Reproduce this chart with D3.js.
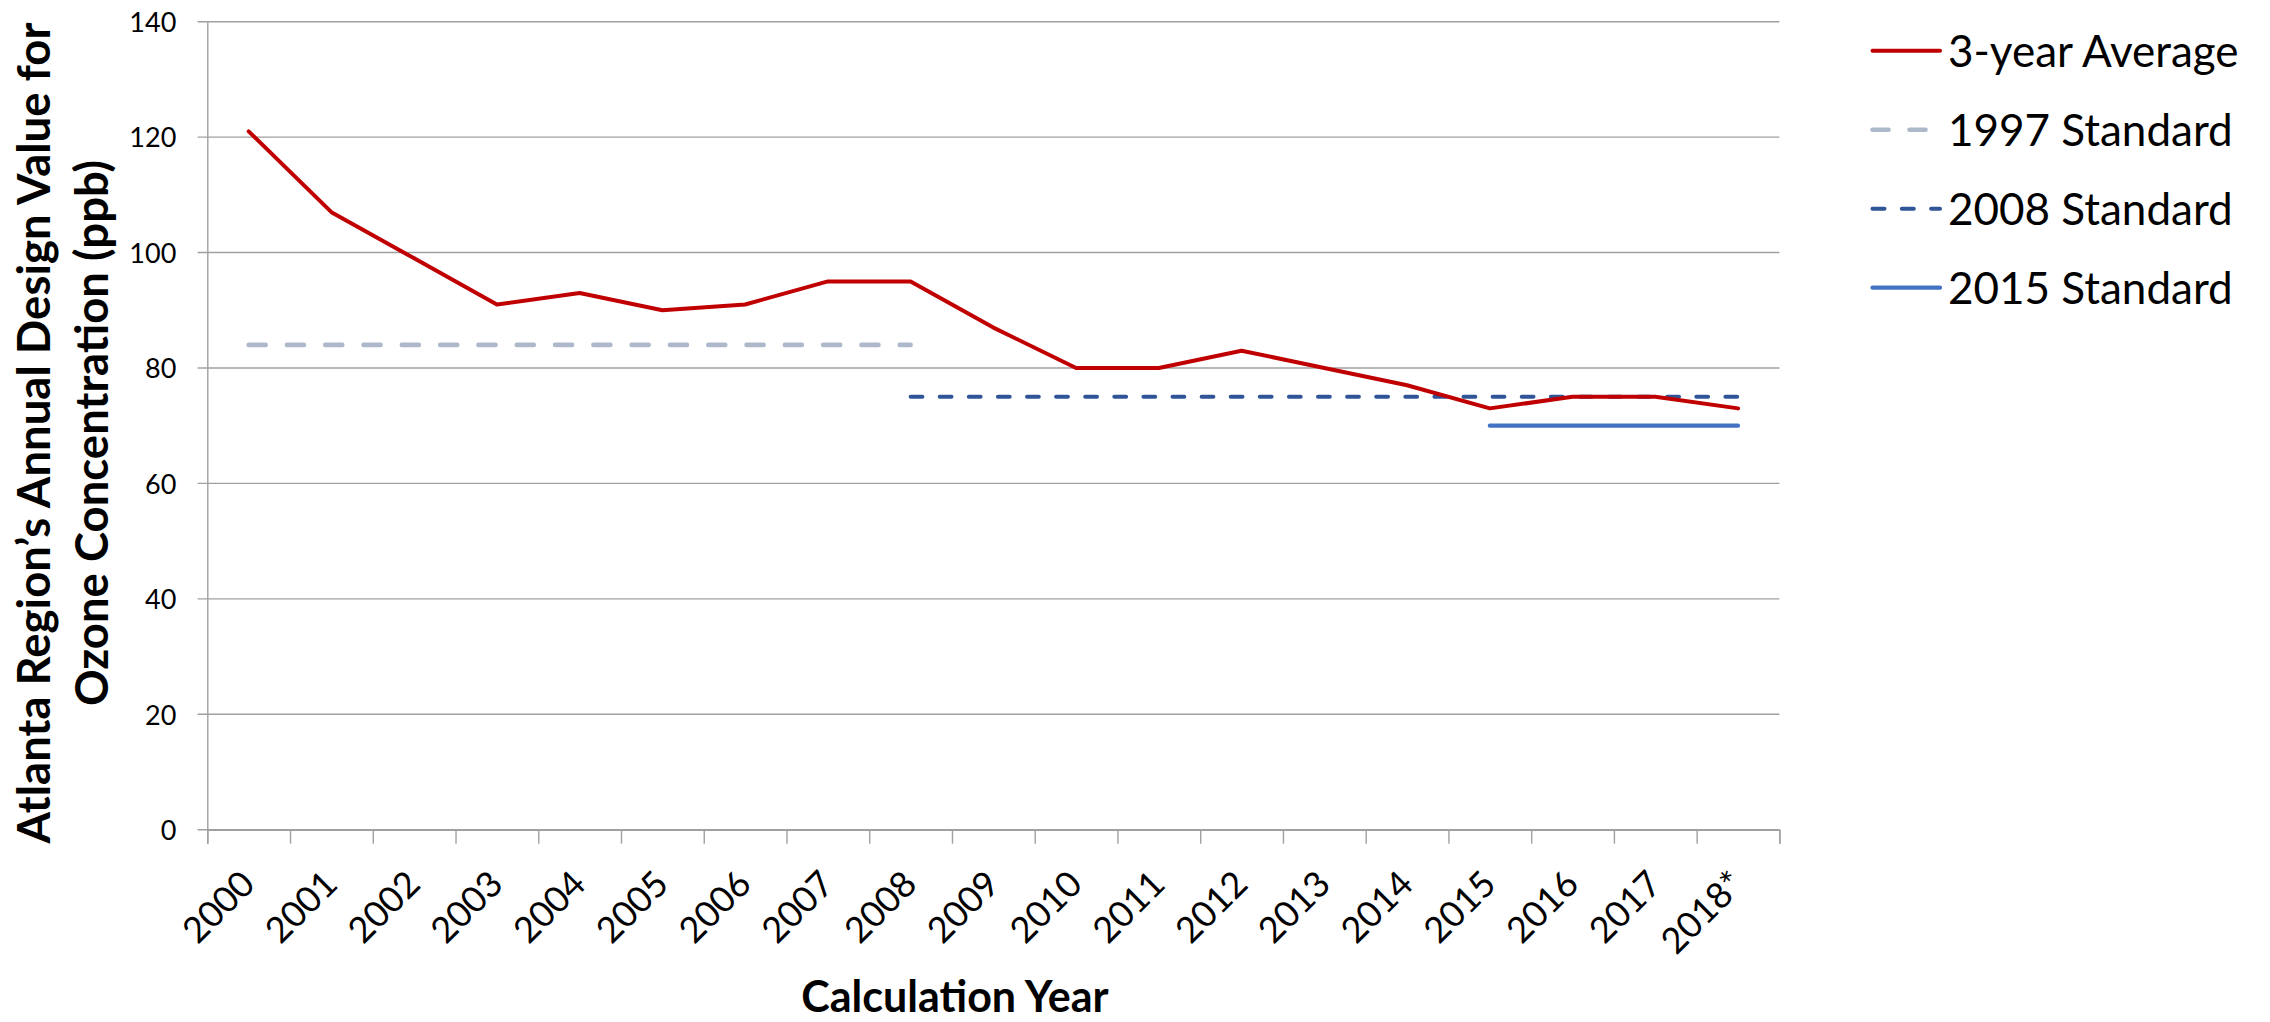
<!DOCTYPE html>
<html><head><meta charset="utf-8">
<script src="https://cdn.jsdelivr.net/npm/d3@7"></script>
<style>
html,body{margin:0;padding:0;background:#fff;}
svg{display:block;font-family:Lato,"Noto Sans",sans-serif;}
</style></head>
<body>
<svg id="chart" width="2270" height="1022"></svg>
<script>
// ---- data ----
const years = ["2000","2001","2002","2003","2004","2005","2006","2007","2008","2009","2010","2011","2012","2013","2014","2015","2016","2017","2018*"];
const avg3yr = [121,107,99,91,93,90,91,95,95,87,80,80,83,80,77,73,75,75,73];
const std1997 = [84,84,84,84,84,84,84,84,84,null,null,null,null,null,null,null,null,null,null];
const std2008 = [null,null,null,null,null,null,null,null,75,75,75,75,75,75,75,75,75,75,75];
const std2015 = [null,null,null,null,null,null,null,null,null,null,null,null,null,null,null,70,70,70,70];
const yTicks = [0,20,40,60,80,100,120,140];
const seriesNames = ["3-year Average","1997 Standard","2008 Standard","2015 Standard"];

// ---- layout ----
const L = 207.3, R = 1779.4, T = 21.7, B = 829.7;
const svg = d3.select("#chart");
const x = d3.scaleBand().domain(years).range([L, R]).padding(0);
const xi = d3.scaleLinear().domain([0, years.length]).range([L, R]);
const y = d3.scaleLinear().domain([0, 140]).range([B, T]);
const cx = d => x(d) + x.bandwidth() / 2;

const gridCol = "#a0a0a0";

// gridlines
svg.append("g").selectAll("line").data(yTicks).join("line")
  .attr("x1", L - 9.7).attr("x2", R)
  .attr("y1", d => y(d)).attr("y2", d => y(d))
  .attr("stroke", gridCol).attr("stroke-width", 1.4);

// y axis
const yAxis = svg.append("g").attr("transform", `translate(${L},0)`)
  .call(d3.axisLeft(y).tickValues(yTicks).tickSize(0).tickPadding(31));
yAxis.select(".domain").attr("stroke", gridCol).attr("stroke-width", 1.4);
yAxis.selectAll("text").attr("font-size", 27).attr("fill", "#000")
  .attr("font-family", "Lato").attr("dy", "0.36em");

// x axis
const xAxis = svg.append("g").attr("transform", `translate(0,${B})`)
  .call(d3.axisBottom(xi).tickValues(d3.range(years.length + 1)).tickSize(14).tickFormat(""));
xAxis.select(".domain").attr("stroke", gridCol).attr("stroke-width", 1.4);
xAxis.selectAll(".tick line").attr("stroke", gridCol).attr("stroke-width", 1.4);

// x labels
svg.append("g").selectAll("text").data(years).join("text")
  .attr("transform", d => `translate(${cx(d) - 1},877) rotate(-45)`)
  .attr("text-anchor", "end").attr("dy", "0.36em")
  .attr("font-size", 36).attr("fill", "#000").text(d => d);

// lines
const mk = arr => d3.line().defined((d, i) => arr[i] != null)
  .x((d, i) => cx(years[i])).y((d, i) => y(arr[i]))(arr);

svg.append("path").attr("d", mk(std1997)).attr("fill", "none")
  .attr("stroke", "#adb9ca").attr("stroke-width", 4.6)
  .attr("stroke-linecap", "round").attr("stroke-dasharray", "17,21.3");
svg.append("path").attr("d", mk(std2008)).attr("fill", "none")
  .attr("stroke", "#2f5597").attr("stroke-width", 4)
  .attr("stroke-linecap", "round").attr("stroke-dasharray", "11.8,17.3");
svg.append("path").attr("d", mk(std2015)).attr("fill", "none")
  .attr("stroke", "#4472c4").attr("stroke-width", 4.2)
  .attr("stroke-linecap", "round");
svg.append("path").attr("d", mk(avg3yr)).attr("fill", "none")
  .attr("stroke", "#c00000").attr("stroke-width", 4)
  .attr("stroke-linejoin", "round").attr("stroke-linecap", "round");

// legend
const legStyles = [
  {stroke:"#c00000", w:4, dash:null},
  {stroke:"#adb9ca", w:4.6, dash:"16,21"},
  {stroke:"#2f5597", w:4, dash:"12,17.3"},
  {stroke:"#4472c4", w:4.2, dash:null}
];
const lg = svg.append("g");
const legRows = lg.selectAll("g").data(seriesNames).join("g")
  .attr("transform", (d, i) => `translate(0,${50.7 + i * 79})`);
legRows.append("line").attr("x1", 1872.5).attr("x2", 1940)
  .attr("stroke", (d, i) => legStyles[i].stroke)
  .attr("stroke-width", (d, i) => legStyles[i].w)
  .attr("stroke-linecap", "round")
  .attr("stroke-dasharray", (d, i) => legStyles[i].dash);
legRows.append("text").attr("x", 1948).attr("dy", "0.36em")
  .attr("font-size", 44).attr("fill", "#000").text(d => d);

// axis titles
const yt = svg.append("text").attr("transform", `translate(50,433) rotate(-90)`)
  .attr("text-anchor", "middle").attr("font-weight", "bold").attr("font-size", 45.5).attr("fill", "#000");
yt.append("tspan").attr("x", 0).attr("y", 0).text("Atlanta Region\u2019s Annual Design Value for");
yt.append("tspan").attr("x", 0).attr("y", 58).text("Ozone Concentration (ppb)");

svg.append("text").attr("x", 955).attr("y", 1012).attr("text-anchor", "middle")
  .attr("font-weight", "bold").attr("font-size", 43).attr("fill", "#000").text("Calculation Year");
</script>
</body></html>
